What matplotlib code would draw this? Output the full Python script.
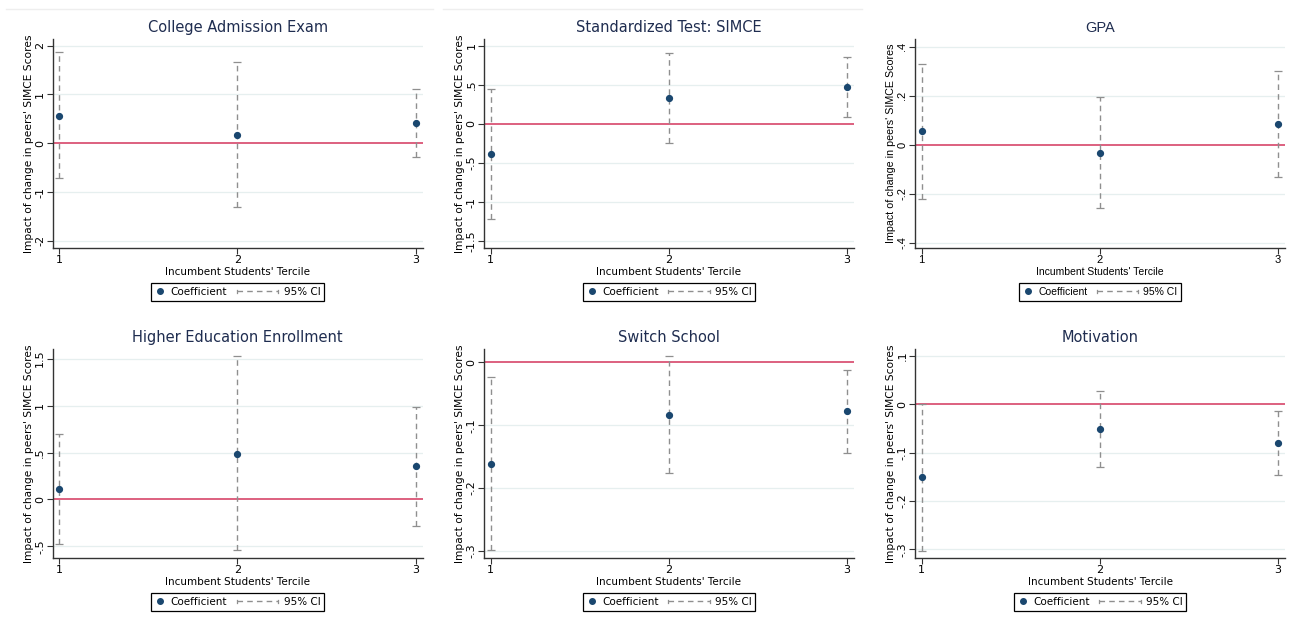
import matplotlib
matplotlib.use("Agg")
import matplotlib.pyplot as plt
from matplotlib.lines import Line2D
from matplotlib.legend_handler import HandlerBase
from matplotlib.ticker import FuncFormatter

# ── Estimates by incumbent tercile ─────────────────────────────
terciles = [1, 2, 3]

titles = [
    "College Admission Exam",
    "Standardized Test: SIMCE",
    "GPA",
    "Higher Education Enrollment",
    "Switch School",
    "Motivation",
]

coef_college = [0.567, 0.17, 0.41]
lo_college = [-0.72, -1.31, -0.29]
hi_college = [1.86, 1.66, 1.11]

coef_simce = [-0.39, 0.33, 0.47]
lo_simce = [-1.22, -0.24, 0.09]
hi_simce = [0.44, 0.91, 0.85]

coef_gpa = [0.055, -0.035, 0.083]
lo_gpa = [-0.22, -0.26, -0.13]
hi_gpa = [0.33, 0.195, 0.30]

coef_enroll = [0.113, 0.49, 0.355]
lo_enroll = [-0.47, -0.54, -0.28]
hi_enroll = [0.70, 1.53, 0.985]

coef_switch = [-0.161, -0.083, -0.078]
lo_switch = [-0.298, -0.176, -0.144]
hi_switch = [-0.023, 0.011, -0.012]

coef_motiv = [-0.15, -0.052, -0.081]
lo_motiv = [-0.303, -0.13, -0.146]
hi_motiv = [0.001, 0.027, -0.0145]

yticks = [
    [-2, -1, 0, 1, 2],
    [-1.5, -1, -0.5, 0, 0.5, 1],
    [-0.4, -0.2, 0, 0.2, 0.4],
    [-0.5, 0, 0.5, 1, 1.5],
    [-0.3, -0.2, -0.1, 0],
    [-0.3, -0.2, -0.1, 0, 0.1],
]
ylims = [
    (-2.14, 2.13),
    (-1.58, 1.08),
    (-0.42, 0.43),
    (-0.62, 1.60),
    (-0.311, 0.021),
    (-0.317, 0.113),
]

coefs = [coef_college, coef_simce, coef_gpa, coef_enroll, coef_switch, coef_motiv]
los = [lo_college, lo_simce, lo_gpa, lo_enroll, lo_switch, lo_motiv]
his = [hi_college, hi_simce, hi_gpa, hi_enroll, hi_switch, hi_motiv]

NAVY = "#1a476f"
TITLE_C = "#1f2d50"
CI_C = "#8f8f8f"
ZERO_C = "#d3365c"
GRID_C = "#e6efef"
DASH = (0, (4, 3))


def stata_fmt(v, _pos):
    # Stata drops the leading zero: .5, -.5, 1.5
    if abs(v) < 1e-9:
        return "0"
    s = f"{v:g}"
    return s.replace("0.", ".")


class CIHandler(HandlerBase):
    """Capped dashed segment; reaches left past its handle box."""

    def __init__(self, extra):
        super().__init__()
        self.extra = extra

    def create_artists(self, legend, orig_handle, xdescent, ydescent,
                       width, height, fontsize, trans):
        x0 = -xdescent - self.extra
        x1 = -xdescent + width
        ym = -ydescent + height / 2
        cap = height * 0.25
        line = Line2D([x0, x1], [ym, ym], color=CI_C, lw=1.0, ls=DASH,
                      transform=trans)
        c0 = Line2D([x0, x0], [ym - cap, ym + cap], color=CI_C, lw=0.9,
                    transform=trans)
        c1 = Line2D([x1, x1], [ym - cap, ym + cap], color=CI_C, lw=0.9,
                    transform=trans)
        return [line, c0, c1]


W, H = 1291, 622
fig = plt.figure(figsize=(W / 100, H / 100), dpi=100)

# faint rule across the top
for x0, x1 in [(6, 433), (443, 862)]:
    fig.add_artist(Line2D([x0 / W, x1 / W], [1 - 9 / H, 1 - 9 / H],
                          color="#eeeeee", lw=1.0))

lefts = [52.7, 484, 915]
tops = [39.3, 349.3]
ax_w, ax_h = 370, 208.4

for i, title in enumerate(titles):
    row, col = divmod(i, 3)
    left = lefts[col]
    bottom = H - tops[row] - ax_h
    ax = fig.add_axes([left / W, bottom / H, ax_w / W, ax_h / H])

    font = "Liberation Sans" if title == "GPA" else "DejaVu Sans"

    x = terciles
    c = coefs[i]
    lo = los[i]
    hi = his[i]

    ax.set_xlim(0.963, 3.04)
    ax.set_ylim(*ylims[i])
    ax.set_yticks(yticks[i])
    ax.set_xticks(terciles)
    ax.yaxis.set_major_formatter(FuncFormatter(stata_fmt))

    for t in yticks[i]:
        if t != 0:
            ax.axhline(t, color=GRID_C, lw=0.9, zorder=0)
    ax.axhline(0, color=ZERO_C, lw=1.1, zorder=1)

    yerr = [[ci - l for ci, l in zip(c, lo)], [h - ci for ci, h in zip(c, hi)]]
    eb = ax.errorbar(x, c, yerr=yerr, fmt="none", ecolor=CI_C, elinewidth=1.0,
                     capsize=3.2, capthick=0.9, zorder=2)
    eb[2][0].set_linestyle(DASH)
    ax.plot(x, c, "o", color=NAVY, ms=4.2, zorder=3)

    for side in ["top", "right"]:
        ax.spines[side].set_visible(False)
    for side in ["left", "bottom"]:
        ax.spines[side].set_color("#333333")
        ax.spines[side].set_linewidth(1.0)
    ax.tick_params(axis="both", direction="out", length=4, width=0.8,
                   color="#333333", labelsize=8, pad=1.5)
    for lab in ax.get_yticklabels():
        lab.set_rotation(90)
        lab.set_va("center")
        lab.set_family(font)
    for lab in ax.get_xticklabels():
        lab.set_family(font)

    ax.set_title(title, fontsize=10.5, color=TITLE_C, pad=5, family=font)
    ax.set_xlabel("Incumbent Students' Tercile", fontsize=7.5, labelpad=1,
                  family=font)
    ax.set_ylabel("Impact of change in peers' SIMCE Scores", fontsize=7.7,
                  labelpad=1, family=font)

    h_coef = Line2D([], [], marker="o", color=NAVY, ls="none", ms=4)
    h_ci = Line2D([], [], color=CI_C)
    leg = ax.legend([h_coef, h_ci], ["Coefficient", "95% CI"],
                    handler_map={h_ci: CIHandler(extra=31 * 72 / 100)},
                    numpoints=1,
                    loc="center", bbox_to_anchor=(0.5, -0.213), ncol=2,
                    frameon=True, fancybox=False, edgecolor="black",
                    prop={"family": font, "size": 7.5},
                    handlelength=1.0, handletextpad=0.5, columnspacing=3.9,
                    borderpad=0.35, borderaxespad=0, framealpha=1)
    leg.get_frame().set_linewidth(0.9)

fig.savefig("out.png", dpi=100, facecolor="white")
